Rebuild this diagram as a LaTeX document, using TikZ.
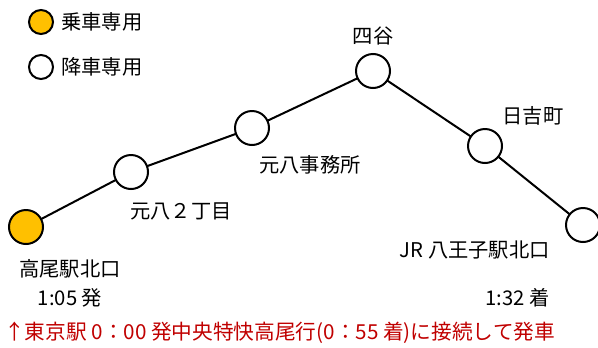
\documentclass[tikz,border=0pt]{standalone}
\usepackage{fontspec}
\setmainfont{Noto Sans CJK JP}
\usepackage{tikz}

\definecolor{boardgold}{HTML}{FFC000}
\definecolor{notered}{HTML}{C00000}

\begin{document}
\begin{tikzpicture}[x=0.75pt,y=-0.75pt,
    stop/.style={draw=black,line width=1.5pt,circle,inner sep=0pt,minimum size=25.5pt,fill=white},
    keystop/.style={draw=black,line width=1.5pt,circle,inner sep=0pt,minimum size=18pt,fill=white},
    txt/.style={inner sep=0pt,font=\fontsize{15.2}{18}\selectfont}]
            \useasboundingbox (0,0) rectangle (598,347);
            % legend
            \node[keystop,fill=boardgold] (keyon) at (41,22) {};
            \node[txt,anchor=west] (keyontxt) at (61,22) {乗車専用};
            \node[keystop] (keyoff) at (41,67) {};
            \node[txt,anchor=west] (keyofftxt) at (61,67) {降車専用};
            % route
            \draw[line width=1.5pt] (26,227) -- (131,172) -- (252,128) -- (373,71) -- (485,146) -- (583,225);
            \node[stop,fill=boardgold] (takao) at (26,227) {};
            \node[stop] (moto2) at (131,172) {};
            \node[stop] (motojim) at (252,128) {};
            \node[stop] (yotsuya) at (373,71) {};
            \node[stop] (hiyoshi) at (485,146) {};
            \node[stop] (hachioji) at (583,225) {};
            % stop names
            \node[txt] (yotsuyatxt) at (373,36) {四谷};
            \node[txt] (motojimtxt) at (310,165) {元八事務所};
            \node[txt] (moto2txt) at (181,211) {元八２丁目};
            \node[txt] (hiyoshitxt) at (533,116) {日吉町};
            \node[txt] (takaotxt) at (70,269) {高尾駅北口};
            \node[txt] (takaotime) at (70,298) {1:05 発};
            \node[txt,anchor=east] (hachiojitxt) at (550,250) {JR 八王子駅北口};
            \node[txt,anchor=east] (hachiojitime) at (550,298) {1:32 着};
            % note
            \node[txt,anchor=west,text=notered,font=\fontsize{15.5}{18}\selectfont] (note) at (4,333) {↑東京駅 0：00 発中央特快高尾行(0：55 着)に接続して発車};
        \end{tikzpicture}
\end{document}
